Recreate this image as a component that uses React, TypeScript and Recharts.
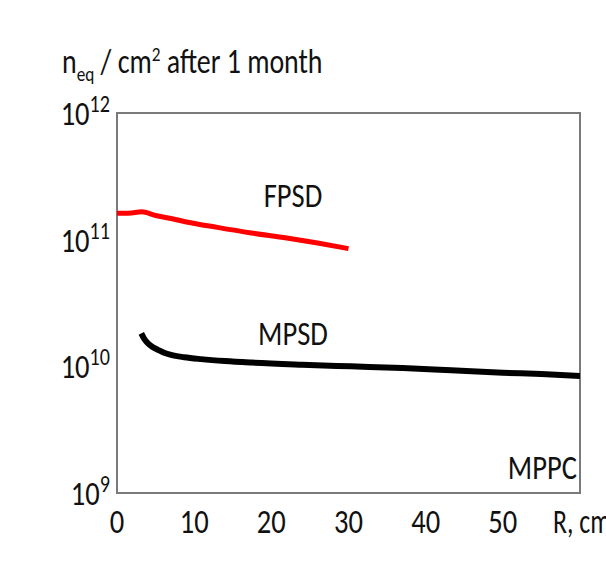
import { LineChart, Line, XAxis, YAxis, ReferenceArea, ReferenceDot } from 'recharts'

const FONT = "Carlito, 'Liberation Sans Narrow', 'Open Sans', sans-serif"
const FS = 34
const SX = 0.84

// FPSD (red), R in cm -> n_eq / cm^2
const fpsdR = [0, 1.5, 3.2, 5, 7, 9, 13, 17.4, 22, 26, 30]
const fpsdVal = [1.62e11, 1.62e11, 1.66e11, 1.55e11, 1.47e11, 1.38e11, 1.25e11, 1.13e11, 1.03e11, 9.4e10, 8.5e10]

// MPSD (black)
const mpsdR = [3.15, 3.5, 4.0, 4.6, 5.3, 6.1, 7.0, 8.7, 10.9, 14, 17.4, 24, 30.3, 37, 43.3, 50, 55, 60]
const mpsdVal = [1.82e10, 1.66e10, 1.52e10, 1.42e10, 1.35e10, 1.28e10, 1.23e10, 1.18e10, 1.14e10, 1.1e10, 1.07e10, 1.03e10, 1.0e10, 9.7e9, 9.3e9, 8.9e9, 8.7e9, 8.4e9]

const xTicks = [0, 10, 20, 30, 40, 50, 60]
const yTicks = [1e9, 1e10, 1e11, 1e12]

const fpsd = fpsdR.map((r, i) => ({ r, v: fpsdVal[i] }))
const mpsd = mpsdR.map((r, i) => ({ r, v: mpsdVal[i] }))

// condensed text, to look like the narrow font of the original
const Narrow = ({ x, y, anchor = 'middle', sx = SX, children }: any) => (
  <text
    transform={`translate(${x},${y}) scale(${sx},1)`}
    textAnchor={anchor}
    fontFamily={FONT}
    fontSize={FS}
    fill="#111"
  >
    {children}
  </text>
)

const YTick = ({ x, y, payload }: any) => {
  const exp = Math.round(Math.log10(payload.value))
  return (
    <Narrow x={x + 1} y={y + 12} anchor="end">
      10
      <tspan fontSize={24} dy={-13}>{exp}</tspan>
    </Narrow>
  )
}

const XTick = ({ x, payload }: any) => {
  if (payload.value === 60)
    return (
      <Narrow x={x - 27} y={533} anchor="start" sx={0.76}>
        R, cm
      </Narrow>
    )
  return (
    <Narrow x={x} y={533}>
      {String(payload.value)}
    </Narrow>
  )
}

const annot = (value: string, anchor = 'middle') => (props: any) => {
  const vb = props.viewBox || {}
  return (
    <Narrow x={vb.x} y={vb.y + 12} anchor={anchor}>
      {value}
    </Narrow>
  )
}

export default function App() {
  return (
    <div style={{ position: 'absolute', left: 0, top: 0, width: 606, height: 567, background: '#fff', overflow: 'hidden' }}>
      <div
        style={{
          position: 'absolute',
          left: 62,
          top: 44,
          fontFamily: FONT,
          fontSize: FS,
          color: '#111',
          whiteSpace: 'nowrap',
          lineHeight: 1,
          transform: `scaleX(${SX - 0.02})`,
          transformOrigin: 'left top',
        }}
      >
        n<sub style={{ fontSize: 21 }}>eq</sub> / cm<sup style={{ fontSize: 21 }}>2</sup> after 1 month
      </div>
      <LineChart width={606} height={567} margin={{ top: 113, right: 26, bottom: 44, left: 0 }}>
        <XAxis
          type="number"
          dataKey="r"
          domain={[0, 60]}
          ticks={xTicks}
          height={30}
          axisLine={false}
          tickLine={false}
          tick={<XTick />}
          interval={0}
          allowDataOverflow
        />
        <YAxis
          type="number"
          dataKey="v"
          scale="log"
          domain={[1e9, 1e12]}
          ticks={yTicks}
          width={117}
          axisLine={false}
          tickLine={false}
          tick={<YTick />}
          interval={0}
          allowDataOverflow
        />
        <ReferenceArea x1={0} x2={60} y1={1e9} y2={1e12} fill="none" stroke="#7a7a7a" strokeWidth={2} fillOpacity={0} />
        <Line data={fpsd} dataKey="v" type="monotone" stroke="#ff0000" strokeWidth={5} dot={false} isAnimationActive={false} />
        <Line data={mpsd} dataKey="v" type="monotone" stroke="#000" strokeWidth={6} dot={false} isAnimationActive={false} />
        <ReferenceDot x={22.8} y={2.25e11} r={0} label={annot('FPSD')} />
        <ReferenceDot x={22.8} y={1.83e10} r={0} label={annot('MPSD')} />
        <ReferenceDot x={59.6} y={1.6e9} r={0} label={annot('MPPC', 'end')} />
      </LineChart>
    </div>
  )
}
